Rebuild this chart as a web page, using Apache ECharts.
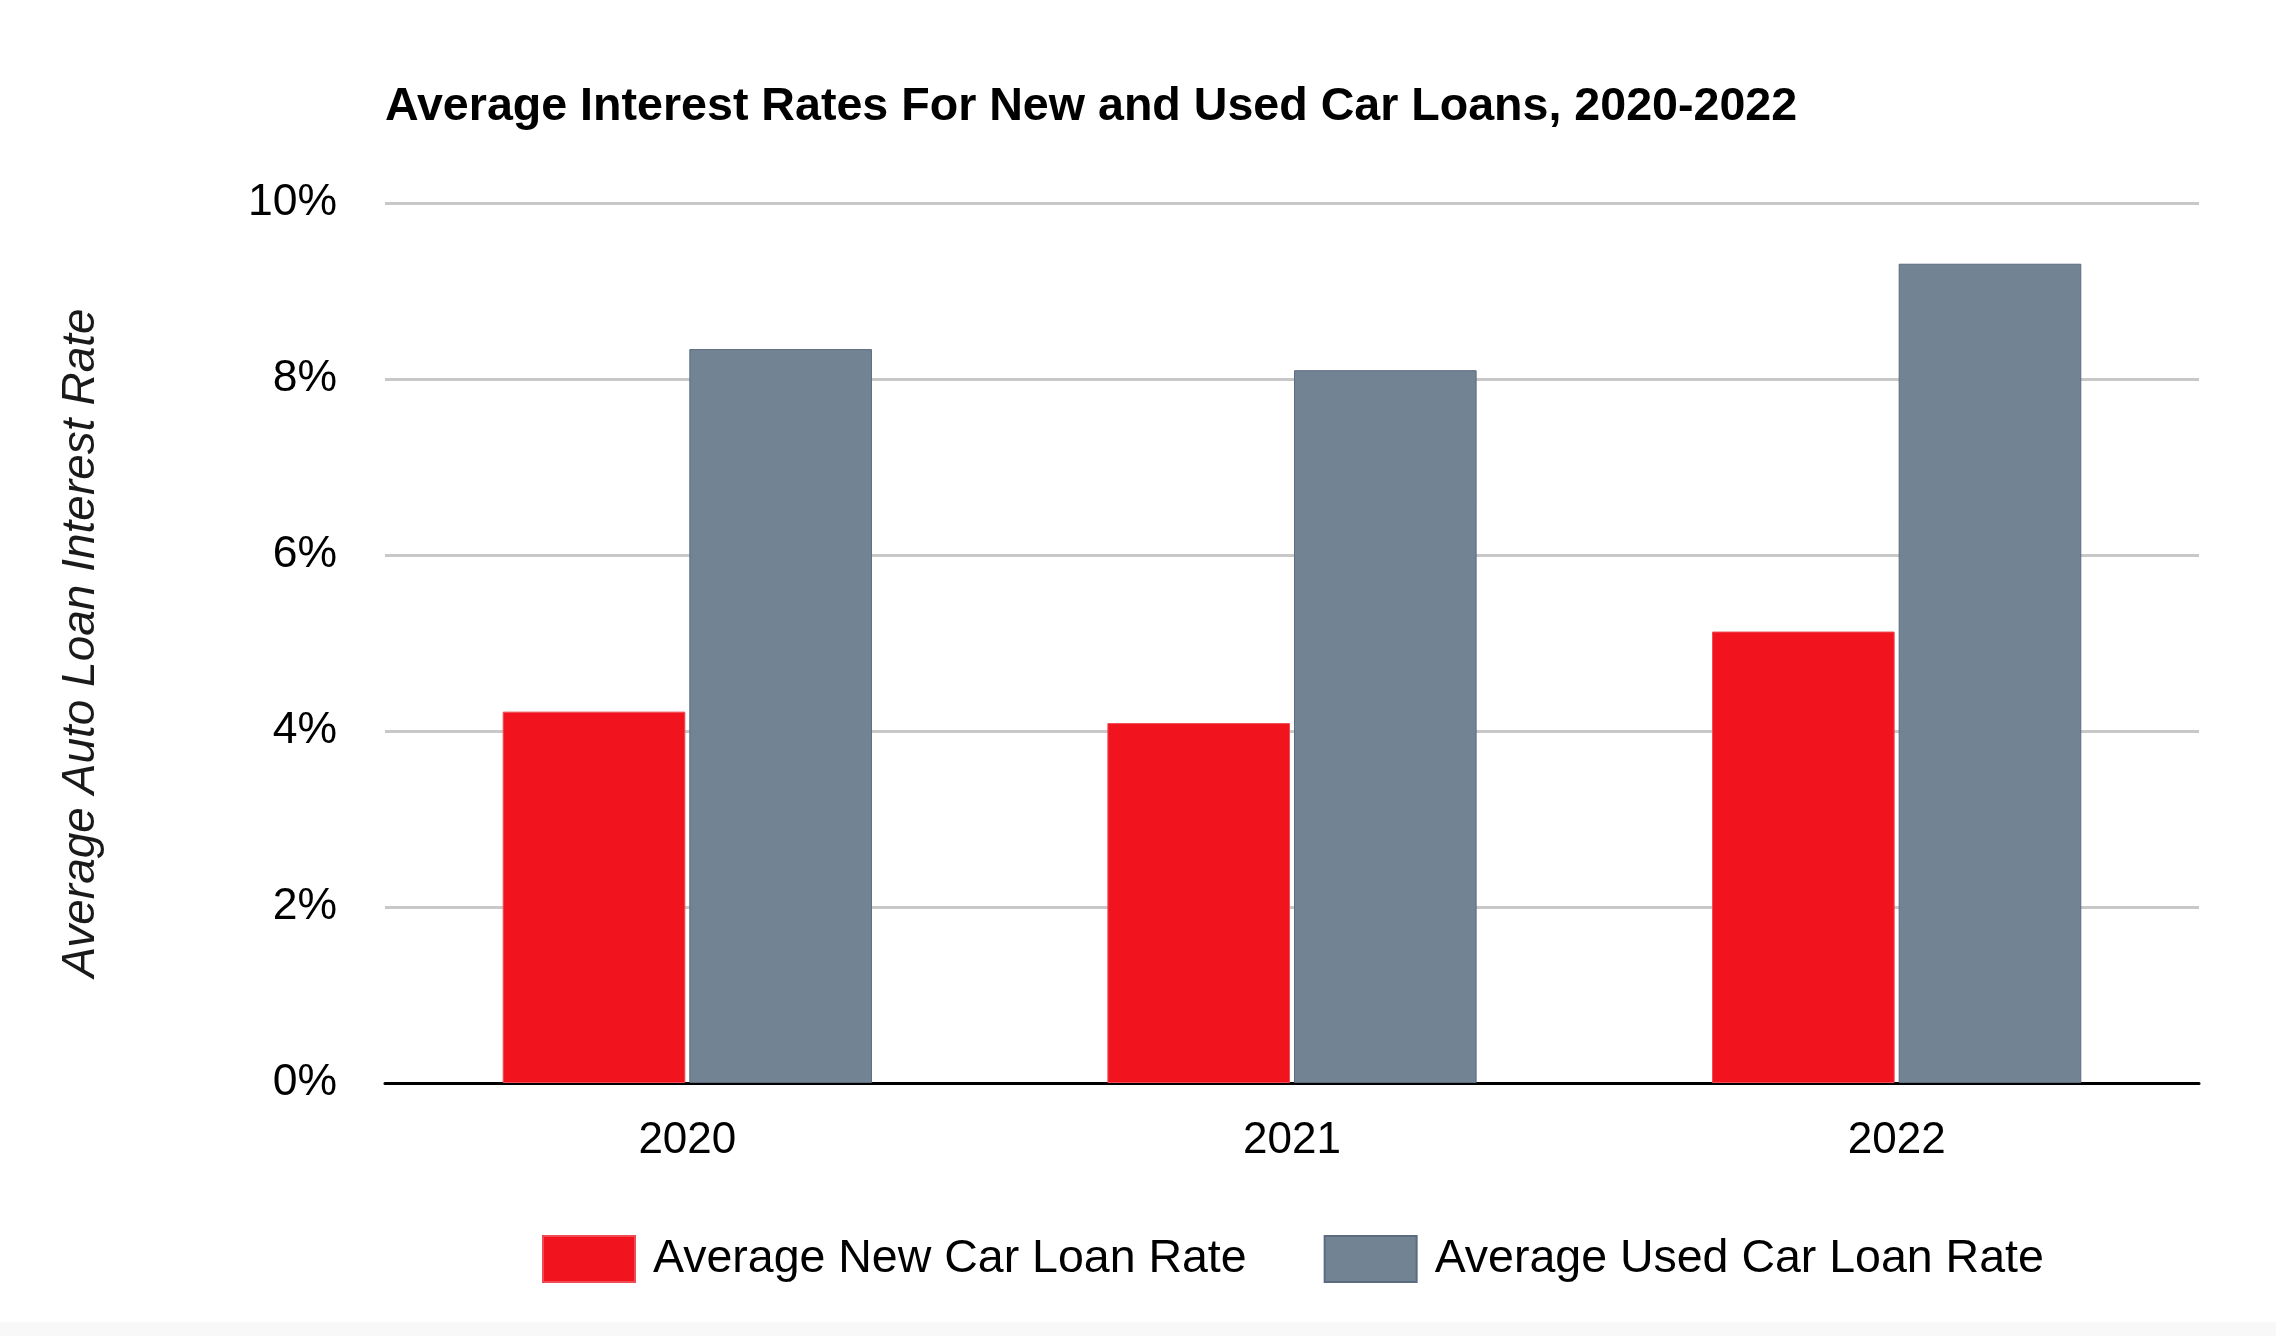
<!DOCTYPE html>
<html>
<head>
<meta charset="utf-8">
<script src="https://cdn.jsdelivr.net/npm/echarts@6/dist/echarts.min.js"></script>
<style>
html,body{margin:0;padding:0;background:#ffffff;}
#chart{width:2276px;height:1336px;}
</style>
</head>
<body>
<div id="chart"></div>
<script>
const categories = ['2020', '2021', '2022'];
const newCarRates = [4.22, 4.09, 5.13];
const usedCarRates = [8.34, 8.10, 9.31];
const seriesNames = ['Average New Car Loan Rate', 'Average Used Car Loan Rate'];
const titleText = 'Average Interest Rates For New and Used Car Loans, 2020-2022';
const yAxisName = 'Average Auto Loan Interest Rate';

const FONT = '"Liberation Sans", Arial, Helvetica, sans-serif';
const chart = echarts.init(document.getElementById('chart'), null, {renderer: 'canvas'});
chart.setOption({
  backgroundColor: '#ffffff',
  animation: false,
  title: {
    text: titleText,
    left: 380,
    top: 79,
    textStyle: {fontFamily: FONT, fontWeight: 'bold', fontSize: 46.6, color: '#000000'}
  },
  graphic: [{
    type: 'rect', left: 0, top: 1322,
    shape: {width: 2276, height: 14},
    style: {fill: '#f8f8f8'}
  }],
  legend: {
    data: seriesNames,
    left: 537,
    top: 1230,
    itemWidth: 92,
    itemHeight: 46,
    itemGap: 77,
    icon: 'rect',
    textStyle: {fontFamily: FONT, fontSize: 46.5, color: '#000000', padding: [0, 0, 0, 13]}
  },
  grid: {left: 385, right: 77, top: 203, bottom: 253, containLabel: false},
  xAxis: {
    type: 'category',
    data: categories,
    axisLine: {lineStyle: {color: '#000000', width: 3}},
    axisTick: {show: false},
    axisLabel: {fontFamily: FONT, fontSize: 44, color: '#000000', margin: 36}
  },
  yAxis: {
    type: 'value',
    min: 0,
    max: 10,
    interval: 2,
    name: yAxisName,
    nameLocation: 'middle',
    nameGap: 281,
    nameTextStyle: {fontFamily: FONT, fontSize: 46, fontStyle: 'italic', color: '#1a1a1a'},
    axisLine: {show: false},
    axisTick: {show: false},
    axisLabel: {fontFamily: FONT, fontSize: 44.5, color: '#000000', margin: 48, padding: [6, 0, 0, 0], formatter: '{value}%'},
    splitLine: {lineStyle: {color: '#c8c8c8', width: 3}}
  },
  series: [
    {
      name: seriesNames[0],
      type: 'bar',
      data: newCarRates,
      barWidth: '30.2%',
      barGap: '2.2%',
      itemStyle: {color: '#f1141f', borderColor: '#f04a52', borderWidth: 1}
    },
    {
      name: seriesNames[1],
      type: 'bar',
      data: usedCarRates,
      barWidth: '30.2%',
      barGap: '2.2%',
      itemStyle: {color: '#728393', borderColor: '#5b6c80', borderWidth: 1}
    }
  ]
});
</script>
</body>
</html>
